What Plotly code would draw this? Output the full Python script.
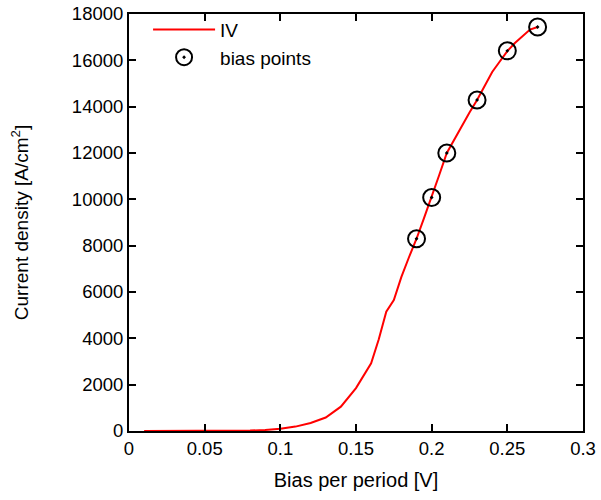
import plotly.graph_objects as go

# IV curve data (bias per period [V], current density [A/cm^2])
iv_bias = [0.01, 0.02, 0.03, 0.04, 0.05, 0.06, 0.07, 0.08, 0.09, 0.10,
           0.11, 0.12, 0.13, 0.14, 0.15, 0.16, 0.165, 0.17, 0.175, 0.18,
           0.185, 0.19, 0.195, 0.20, 0.205, 0.21, 0.215, 0.22, 0.225, 0.23,
           0.235, 0.24, 0.245, 0.25, 0.255, 0.26, 0.265, 0.27]
iv_current = [0, 0, 0, 0, 2, 5, 10, 20, 45, 100,
              190, 345, 580, 1050, 1850, 2920, 3950, 5150, 5650, 6650,
              7500, 8300, 9200, 10080, 11050, 12000, 12600, 13150, 13750, 14290,
              14900, 15500, 15950, 16400, 16750, 17050, 17330, 17440]

# Bias points
pt_bias = [0.19, 0.20, 0.21, 0.23, 0.25, 0.27]
pt_current = [8300, 10080, 12000, 14290, 16410, 17440]

x_ticks = [0, 0.05, 0.1, 0.15, 0.2, 0.25, 0.3]
x_tick_labels = ["0", "0.05", "0.1", "0.15", "0.2", "0.25", "0.3"]
y_ticks = [0, 2000, 4000, 6000, 8000, 10000, 12000, 14000, 16000, 18000]
y_tick_labels = [str(v) for v in y_ticks]

FONT = "Liberation Sans"

fig = go.Figure()
fig.add_trace(go.Scatter(x=iv_bias, y=iv_current, mode="lines", name="IV",
                         line=dict(color="#ff0000", width=2)))
fig.add_trace(go.Scatter(x=pt_bias, y=pt_current, mode="markers", name="bias points",
                         marker=dict(symbol="circle-open-dot", size=17, color="black",
                                     line=dict(color="black", width=2))))

axis_common = dict(showline=True, linecolor="black", linewidth=2, mirror="ticks",
                   ticks="inside", ticklen=7, tickwidth=2, tickcolor="black",
                   showgrid=False, zeroline=False, automargin=False,
                   ticklabeloverflow="allow",
                   tickfont=dict(family=FONT, size=18.5, color="black"))

fig.update_layout(
    width=601, height=500,
    margin=dict(l=129, r=18, t=14, b=69, autoexpand=False),
    plot_bgcolor="white", paper_bgcolor="white",
    font=dict(family=FONT, size=19, color="black"),
    xaxis=dict(range=[0, 0.3], tickvals=x_ticks, ticktext=x_tick_labels,
               title=dict(text="Bias per period [V]",
                          font=dict(family=FONT, size=20)),
               **axis_common),
    yaxis=dict(range=[0, 18000], tickvals=y_ticks, ticktext=y_tick_labels,
               title=dict(text="Current density [A/cm<sup>2</sup>]", standoff=38,
                          font=dict(family=FONT, size=19)),
               **axis_common),
    legend=dict(x=0.042, y=1.008, xanchor="left", yanchor="top",
                bgcolor="rgba(0,0,0,0)", borderwidth=0, itemwidth=62,
                font=dict(family=FONT, size=19), tracegroupgap=0),
    showlegend=True,
)

fig.write_html("out.html",
               config={"displayModeBar": False},
               post_script="document.body.style.margin='0';")
